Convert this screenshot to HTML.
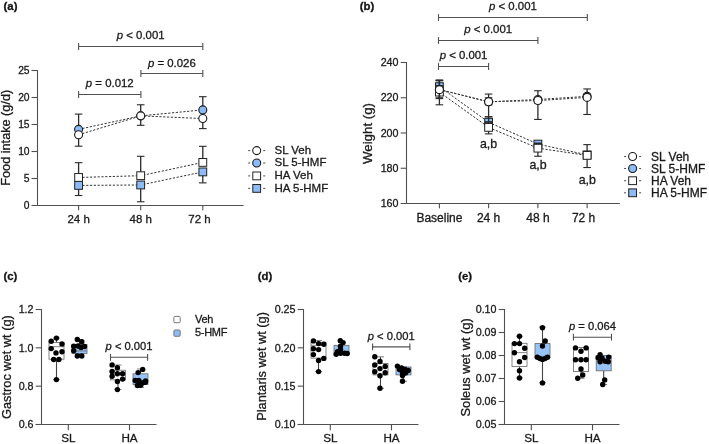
<!DOCTYPE html>
<html><head><meta charset="utf-8"><style>
html,body{margin:0;padding:0;background:#fff;width:709px;height:444px;overflow:hidden}
svg{display:block;font-family:"Liberation Sans", sans-serif;will-change:transform} text{stroke:#1a1a1a;stroke-width:0.3px}
</style></head><body>
<svg width="709" height="444" viewBox="0 0 709 444">
<text x="3.50" y="10.00" font-size="11.4" text-anchor="start" font-weight="bold" fill="#111" >(a)</text>
<line x1="37.50" y1="70.00" x2="37.50" y2="205.50" stroke="#505050" stroke-width="1.1" />
<line x1="31.50" y1="205.50" x2="243.60" y2="205.50" stroke="#505050" stroke-width="1.1" />
<line x1="31.50" y1="178.50" x2="37.50" y2="178.50" stroke="#505050" stroke-width="1.1" />
<line x1="31.50" y1="151.50" x2="37.50" y2="151.50" stroke="#505050" stroke-width="1.1" />
<line x1="31.50" y1="124.50" x2="37.50" y2="124.50" stroke="#505050" stroke-width="1.1" />
<line x1="31.50" y1="97.50" x2="37.50" y2="97.50" stroke="#505050" stroke-width="1.1" />
<line x1="31.50" y1="70.50" x2="37.50" y2="70.50" stroke="#505050" stroke-width="1.1" />
<text x="29.60" y="209.15" font-size="10.3" text-anchor="end" font-weight="normal" fill="#1a1a1a" >0</text>
<text x="29.60" y="182.15" font-size="10.3" text-anchor="end" font-weight="normal" fill="#1a1a1a" >5</text>
<text x="29.60" y="155.15" font-size="10.3" text-anchor="end" font-weight="normal" fill="#1a1a1a" >10</text>
<text x="29.60" y="128.15" font-size="10.3" text-anchor="end" font-weight="normal" fill="#1a1a1a" >15</text>
<text x="29.60" y="101.15" font-size="10.3" text-anchor="end" font-weight="normal" fill="#1a1a1a" >20</text>
<text x="29.60" y="74.15" font-size="10.3" text-anchor="end" font-weight="normal" fill="#1a1a1a" >25</text>
<line x1="78.60" y1="205.50" x2="78.60" y2="210.30" stroke="#505050" stroke-width="1.1" />
<text x="78.60" y="222.80" font-size="11.5" text-anchor="middle" font-weight="normal" fill="#1a1a1a" >24 h</text>
<line x1="140.70" y1="205.50" x2="140.70" y2="210.30" stroke="#505050" stroke-width="1.1" />
<text x="140.70" y="222.80" font-size="11.5" text-anchor="middle" font-weight="normal" fill="#1a1a1a" >48 h</text>
<line x1="202.80" y1="205.50" x2="202.80" y2="210.30" stroke="#505050" stroke-width="1.1" />
<text x="199.50" y="222.80" font-size="11.5" text-anchor="middle" font-weight="normal" fill="#1a1a1a" >72 h</text>
<text transform="translate(10.0,137.75) rotate(-90)" font-size="12.7" text-anchor="middle" fill="#1a1a1a">Food intake (g/d)</text>
<line x1="78.60" y1="94.50" x2="140.90" y2="94.50" stroke="#505050" stroke-width="1.1" />
<line x1="78.60" y1="91.10" x2="78.60" y2="97.90" stroke="#505050" stroke-width="1.1" />
<line x1="140.90" y1="91.10" x2="140.90" y2="97.90" stroke="#505050" stroke-width="1.1" />
<text x="109.75" y="86.80" font-size="11.4" text-anchor="middle" fill="#1a1a1a"><tspan font-style="italic">p</tspan> = 0.012</text>
<line x1="140.90" y1="73.50" x2="202.80" y2="73.50" stroke="#505050" stroke-width="1.1" />
<line x1="140.90" y1="70.10" x2="140.90" y2="76.90" stroke="#505050" stroke-width="1.1" />
<line x1="202.80" y1="70.10" x2="202.80" y2="76.90" stroke="#505050" stroke-width="1.1" />
<text x="171.85" y="66.70" font-size="11.4" text-anchor="middle" fill="#1a1a1a"><tspan font-style="italic">p</tspan> = 0.026</text>
<line x1="78.60" y1="46.50" x2="202.80" y2="46.50" stroke="#505050" stroke-width="1.1" />
<line x1="78.60" y1="43.10" x2="78.60" y2="49.90" stroke="#505050" stroke-width="1.1" />
<line x1="202.80" y1="43.10" x2="202.80" y2="49.90" stroke="#505050" stroke-width="1.1" />
<text x="140.70" y="39.20" font-size="11.4" text-anchor="middle" fill="#1a1a1a"><tspan font-style="italic">p</tspan> &lt; 0.001</text>
<path d="M78.60,185.41 L140.70,184.98 L202.80,171.91" fill="none" stroke="#333" stroke-width="1" stroke-dasharray="2.2,1.6"/>
<path d="M78.60,177.47 L140.70,175.69 L202.80,162.41" fill="none" stroke="#333" stroke-width="1" stroke-dasharray="2.2,1.6"/>
<path d="M78.60,129.36 L140.70,115.86 L202.80,109.92" fill="none" stroke="#333" stroke-width="1" stroke-dasharray="2.2,1.6"/>
<path d="M78.60,134.76 L140.70,115.86 L202.80,118.56" fill="none" stroke="#333" stroke-width="1" stroke-dasharray="2.2,1.6"/>
<line x1="78.60" y1="185.41" x2="78.60" y2="195.51" stroke="#2a2a2a" stroke-width="1.3" />
<line x1="74.80" y1="185.41" x2="82.40" y2="185.41" stroke="#2a2a2a" stroke-width="1.1" />
<line x1="74.80" y1="195.51" x2="82.40" y2="195.51" stroke="#2a2a2a" stroke-width="1.1" />
<rect x="74.70" y="181.51" width="7.80" height="7.80" fill="#8cbbf6" stroke="#222" stroke-width="1.0" />
<line x1="140.70" y1="184.98" x2="140.70" y2="201.77" stroke="#2a2a2a" stroke-width="1.3" />
<line x1="136.90" y1="184.98" x2="144.50" y2="184.98" stroke="#2a2a2a" stroke-width="1.1" />
<line x1="136.90" y1="201.77" x2="144.50" y2="201.77" stroke="#2a2a2a" stroke-width="1.1" />
<rect x="136.80" y="181.08" width="7.80" height="7.80" fill="#8cbbf6" stroke="#222" stroke-width="1.0" />
<line x1="202.80" y1="171.91" x2="202.80" y2="182.87" stroke="#2a2a2a" stroke-width="1.3" />
<line x1="199.00" y1="171.91" x2="206.60" y2="171.91" stroke="#2a2a2a" stroke-width="1.1" />
<line x1="199.00" y1="182.87" x2="206.60" y2="182.87" stroke="#2a2a2a" stroke-width="1.1" />
<rect x="198.90" y="168.01" width="7.80" height="7.80" fill="#8cbbf6" stroke="#222" stroke-width="1.0" />
<line x1="78.60" y1="162.68" x2="78.60" y2="177.47" stroke="#2a2a2a" stroke-width="1.3" />
<line x1="74.80" y1="162.68" x2="82.40" y2="162.68" stroke="#2a2a2a" stroke-width="1.1" />
<line x1="74.80" y1="177.47" x2="82.40" y2="177.47" stroke="#2a2a2a" stroke-width="1.1" />
<rect x="74.70" y="173.57" width="7.80" height="7.80" fill="#fff" stroke="#222" stroke-width="1.0" />
<line x1="140.70" y1="156.31" x2="140.70" y2="175.69" stroke="#2a2a2a" stroke-width="1.3" />
<line x1="136.90" y1="156.31" x2="144.50" y2="156.31" stroke="#2a2a2a" stroke-width="1.1" />
<line x1="136.90" y1="175.69" x2="144.50" y2="175.69" stroke="#2a2a2a" stroke-width="1.1" />
<rect x="136.80" y="171.79" width="7.80" height="7.80" fill="#fff" stroke="#222" stroke-width="1.0" />
<line x1="202.80" y1="146.32" x2="202.80" y2="162.41" stroke="#2a2a2a" stroke-width="1.3" />
<line x1="199.00" y1="146.32" x2="206.60" y2="146.32" stroke="#2a2a2a" stroke-width="1.1" />
<line x1="199.00" y1="162.41" x2="206.60" y2="162.41" stroke="#2a2a2a" stroke-width="1.1" />
<rect x="198.90" y="158.51" width="7.80" height="7.80" fill="#fff" stroke="#222" stroke-width="1.0" />
<line x1="78.60" y1="114.08" x2="78.60" y2="129.36" stroke="#2a2a2a" stroke-width="1.3" />
<line x1="74.80" y1="114.08" x2="82.40" y2="114.08" stroke="#2a2a2a" stroke-width="1.1" />
<line x1="74.80" y1="129.36" x2="82.40" y2="129.36" stroke="#2a2a2a" stroke-width="1.1" />
<circle cx="78.60" cy="129.36" r="4.0" fill="#8cbbf6" stroke="#1a1a1a" stroke-width="1.1"/>
<line x1="140.70" y1="104.79" x2="140.70" y2="115.86" stroke="#2a2a2a" stroke-width="1.3" />
<line x1="136.90" y1="104.79" x2="144.50" y2="104.79" stroke="#2a2a2a" stroke-width="1.1" />
<line x1="136.90" y1="115.86" x2="144.50" y2="115.86" stroke="#2a2a2a" stroke-width="1.1" />
<circle cx="140.70" cy="115.86" r="4.0" fill="#8cbbf6" stroke="#1a1a1a" stroke-width="1.1"/>
<line x1="202.80" y1="96.69" x2="202.80" y2="109.92" stroke="#2a2a2a" stroke-width="1.3" />
<line x1="199.00" y1="96.69" x2="206.60" y2="96.69" stroke="#2a2a2a" stroke-width="1.1" />
<line x1="199.00" y1="109.92" x2="206.60" y2="109.92" stroke="#2a2a2a" stroke-width="1.1" />
<circle cx="202.80" cy="109.92" r="4.0" fill="#8cbbf6" stroke="#1a1a1a" stroke-width="1.1"/>
<line x1="78.60" y1="134.76" x2="78.60" y2="146.21" stroke="#2a2a2a" stroke-width="1.3" />
<line x1="74.80" y1="134.76" x2="82.40" y2="134.76" stroke="#2a2a2a" stroke-width="1.1" />
<line x1="74.80" y1="146.21" x2="82.40" y2="146.21" stroke="#2a2a2a" stroke-width="1.1" />
<circle cx="78.60" cy="134.76" r="4.0" fill="#fff" stroke="#1a1a1a" stroke-width="1.1"/>
<line x1="140.70" y1="115.86" x2="140.70" y2="125.31" stroke="#2a2a2a" stroke-width="1.3" />
<line x1="136.90" y1="115.86" x2="144.50" y2="115.86" stroke="#2a2a2a" stroke-width="1.1" />
<line x1="136.90" y1="125.31" x2="144.50" y2="125.31" stroke="#2a2a2a" stroke-width="1.1" />
<circle cx="140.70" cy="115.86" r="4.0" fill="#fff" stroke="#1a1a1a" stroke-width="1.1"/>
<line x1="202.80" y1="118.56" x2="202.80" y2="128.60" stroke="#2a2a2a" stroke-width="1.3" />
<line x1="199.00" y1="118.56" x2="206.60" y2="118.56" stroke="#2a2a2a" stroke-width="1.1" />
<line x1="199.00" y1="128.60" x2="206.60" y2="128.60" stroke="#2a2a2a" stroke-width="1.1" />
<circle cx="202.80" cy="118.56" r="4.0" fill="#fff" stroke="#1a1a1a" stroke-width="1.1"/>
<line x1="248.20" y1="150.60" x2="250.20" y2="150.60" stroke="#555" stroke-width="1.1" />
<line x1="263.20" y1="150.60" x2="265.20" y2="150.60" stroke="#555" stroke-width="1.1" />
<circle cx="256.70" cy="150.60" r="4.0" fill="#fff" stroke="#1a1a1a" stroke-width="1.1"/>
<text x="274.50" y="154.00" font-size="11.5" text-anchor="start" font-weight="normal" fill="#1a1a1a" >SL Veh</text>
<line x1="248.20" y1="163.00" x2="250.20" y2="163.00" stroke="#555" stroke-width="1.1" />
<line x1="263.20" y1="163.00" x2="265.20" y2="163.00" stroke="#555" stroke-width="1.1" />
<circle cx="256.70" cy="163.00" r="4.0" fill="#8cbbf6" stroke="#1a1a1a" stroke-width="1.1"/>
<text x="274.50" y="166.40" font-size="11.5" text-anchor="start" font-weight="normal" fill="#1a1a1a" >SL 5-HMF</text>
<line x1="248.20" y1="175.90" x2="250.20" y2="175.90" stroke="#555" stroke-width="1.1" />
<line x1="263.20" y1="175.90" x2="265.20" y2="175.90" stroke="#555" stroke-width="1.1" />
<rect x="252.80" y="172.00" width="7.80" height="7.80" fill="#fff" stroke="#222" stroke-width="1.0" />
<text x="274.50" y="179.30" font-size="11.5" text-anchor="start" font-weight="normal" fill="#1a1a1a" >HA Veh</text>
<line x1="248.20" y1="188.40" x2="250.20" y2="188.40" stroke="#555" stroke-width="1.1" />
<line x1="263.20" y1="188.40" x2="265.20" y2="188.40" stroke="#555" stroke-width="1.1" />
<rect x="252.80" y="184.50" width="7.80" height="7.80" fill="#8cbbf6" stroke="#222" stroke-width="1.0" />
<text x="274.50" y="191.80" font-size="11.5" text-anchor="start" font-weight="normal" fill="#1a1a1a" >HA 5-HMF</text>
<text x="359.70" y="10.20" font-size="11.4" text-anchor="start" font-weight="bold" fill="#111" >(b)</text>
<line x1="406.50" y1="62.00" x2="406.50" y2="203.50" stroke="#505050" stroke-width="1.1" />
<line x1="400.70" y1="203.50" x2="619.90" y2="203.50" stroke="#505050" stroke-width="1.1" />
<line x1="400.70" y1="168.25" x2="406.50" y2="168.25" stroke="#505050" stroke-width="1.1" />
<line x1="400.70" y1="133.00" x2="406.50" y2="133.00" stroke="#505050" stroke-width="1.1" />
<line x1="400.70" y1="97.75" x2="406.50" y2="97.75" stroke="#505050" stroke-width="1.1" />
<line x1="400.70" y1="62.50" x2="406.50" y2="62.50" stroke="#505050" stroke-width="1.1" />
<text x="398.50" y="207.20" font-size="10.7" text-anchor="end" font-weight="normal" fill="#1a1a1a" >160</text>
<text x="398.50" y="171.95" font-size="10.7" text-anchor="end" font-weight="normal" fill="#1a1a1a" >180</text>
<text x="398.50" y="136.70" font-size="10.7" text-anchor="end" font-weight="normal" fill="#1a1a1a" >200</text>
<text x="398.50" y="101.45" font-size="10.7" text-anchor="end" font-weight="normal" fill="#1a1a1a" >220</text>
<text x="398.50" y="66.20" font-size="10.7" text-anchor="end" font-weight="normal" fill="#1a1a1a" >240</text>
<line x1="439.40" y1="203.50" x2="439.40" y2="208.30" stroke="#505050" stroke-width="1.1" />
<text x="439.40" y="222.40" font-size="12" text-anchor="middle" font-weight="normal" fill="#1a1a1a" >Baseline</text>
<line x1="488.60" y1="203.50" x2="488.60" y2="208.30" stroke="#505050" stroke-width="1.1" />
<text x="488.60" y="222.40" font-size="12" text-anchor="middle" font-weight="normal" fill="#1a1a1a" >24 h</text>
<line x1="537.90" y1="203.50" x2="537.90" y2="208.30" stroke="#505050" stroke-width="1.1" />
<text x="537.90" y="222.40" font-size="12" text-anchor="middle" font-weight="normal" fill="#1a1a1a" >48 h</text>
<line x1="587.10" y1="203.50" x2="587.10" y2="208.30" stroke="#505050" stroke-width="1.1" />
<text x="583.60" y="222.40" font-size="12" text-anchor="middle" font-weight="normal" fill="#1a1a1a" >72 h</text>
<text transform="translate(372.1,133.5) rotate(-90)" font-size="13.3" text-anchor="middle" fill="#1a1a1a">Weight (g)</text>
<line x1="438.50" y1="66.50" x2="488.60" y2="66.50" stroke="#505050" stroke-width="1.1" />
<line x1="438.50" y1="63.10" x2="438.50" y2="69.90" stroke="#505050" stroke-width="1.1" />
<line x1="488.60" y1="63.10" x2="488.60" y2="69.90" stroke="#505050" stroke-width="1.1" />
<text x="463.55" y="58.90" font-size="11.4" text-anchor="middle" fill="#1a1a1a"><tspan font-style="italic">p</tspan> &lt; 0.001</text>
<line x1="438.50" y1="40.50" x2="537.90" y2="40.50" stroke="#505050" stroke-width="1.1" />
<line x1="438.50" y1="37.10" x2="438.50" y2="43.90" stroke="#505050" stroke-width="1.1" />
<line x1="537.90" y1="37.10" x2="537.90" y2="43.90" stroke="#505050" stroke-width="1.1" />
<text x="488.20" y="32.90" font-size="11.4" text-anchor="middle" fill="#1a1a1a"><tspan font-style="italic">p</tspan> &lt; 0.001</text>
<line x1="438.50" y1="17.50" x2="587.30" y2="17.50" stroke="#505050" stroke-width="1.1" />
<line x1="438.50" y1="14.10" x2="438.50" y2="20.90" stroke="#505050" stroke-width="1.1" />
<line x1="587.30" y1="14.10" x2="587.30" y2="20.90" stroke="#505050" stroke-width="1.1" />
<text x="512.90" y="9.60" font-size="11.4" text-anchor="middle" fill="#1a1a1a"><tspan font-style="italic">p</tspan> &lt; 0.001</text>
<path d="M439.40,86.65 L488.60,122.25 L537.90,144.10 L587.10,154.86" fill="none" stroke="#333" stroke-width="1" stroke-dasharray="2.2,1.6"/>
<path d="M439.40,92.11 L488.60,127.36 L537.90,148.16 L587.10,155.38" fill="none" stroke="#333" stroke-width="1" stroke-dasharray="2.2,1.6"/>
<path d="M439.40,89.47 L488.60,101.80 L537.90,99.51 L587.10,96.34" fill="none" stroke="#333" stroke-width="1" stroke-dasharray="2.2,1.6"/>
<path d="M439.40,89.64 L488.60,101.80 L537.90,100.57 L587.10,97.40" fill="none" stroke="#333" stroke-width="1" stroke-dasharray="2.2,1.6"/>
<rect x="435.50" y="82.75" width="7.80" height="7.80" fill="#8cbbf6" stroke="#222" stroke-width="1.0" />
<line x1="439.40" y1="79.95" x2="439.40" y2="86.65" stroke="#2a2a2a" stroke-width="1.3" />
<line x1="435.60" y1="79.95" x2="443.20" y2="79.95" stroke="#2a2a2a" stroke-width="1.1" />
<line x1="435.60" y1="86.65" x2="443.20" y2="86.65" stroke="#2a2a2a" stroke-width="1.1" />
<rect x="484.70" y="118.35" width="7.80" height="7.80" fill="#8cbbf6" stroke="#222" stroke-width="1.0" />
<line x1="488.60" y1="116.79" x2="488.60" y2="122.25" stroke="#2a2a2a" stroke-width="1.3" />
<line x1="484.80" y1="116.79" x2="492.40" y2="116.79" stroke="#2a2a2a" stroke-width="1.1" />
<line x1="484.80" y1="122.25" x2="492.40" y2="122.25" stroke="#2a2a2a" stroke-width="1.1" />
<rect x="534.00" y="140.20" width="7.80" height="7.80" fill="#8cbbf6" stroke="#222" stroke-width="1.0" />
<line x1="537.90" y1="143.57" x2="537.90" y2="144.10" stroke="#2a2a2a" stroke-width="1.3" />
<line x1="534.10" y1="143.57" x2="541.70" y2="143.57" stroke="#2a2a2a" stroke-width="1.1" />
<line x1="534.10" y1="144.10" x2="541.70" y2="144.10" stroke="#2a2a2a" stroke-width="1.1" />
<rect x="583.20" y="150.96" width="7.80" height="7.80" fill="#8cbbf6" stroke="#222" stroke-width="1.0" />
<line x1="587.10" y1="152.39" x2="587.10" y2="157.68" stroke="#2a2a2a" stroke-width="1.3" />
<line x1="583.30" y1="152.39" x2="590.90" y2="152.39" stroke="#2a2a2a" stroke-width="1.1" />
<line x1="583.30" y1="157.68" x2="590.90" y2="157.68" stroke="#2a2a2a" stroke-width="1.1" />
<line x1="439.40" y1="85.59" x2="439.40" y2="98.63" stroke="#2a2a2a" stroke-width="1.3" />
<line x1="435.60" y1="85.59" x2="443.20" y2="85.59" stroke="#2a2a2a" stroke-width="1.1" />
<line x1="435.60" y1="98.63" x2="443.20" y2="98.63" stroke="#2a2a2a" stroke-width="1.1" />
<rect x="435.50" y="88.21" width="7.80" height="7.80" fill="#fff" stroke="#222" stroke-width="1.0" />
<line x1="488.60" y1="121.72" x2="488.60" y2="133.88" stroke="#2a2a2a" stroke-width="1.3" />
<line x1="484.80" y1="121.72" x2="492.40" y2="121.72" stroke="#2a2a2a" stroke-width="1.1" />
<line x1="484.80" y1="133.88" x2="492.40" y2="133.88" stroke="#2a2a2a" stroke-width="1.1" />
<rect x="484.70" y="123.46" width="7.80" height="7.80" fill="#fff" stroke="#222" stroke-width="1.0" />
<line x1="537.90" y1="143.05" x2="537.90" y2="156.26" stroke="#2a2a2a" stroke-width="1.3" />
<line x1="534.10" y1="143.05" x2="541.70" y2="143.05" stroke="#2a2a2a" stroke-width="1.1" />
<line x1="534.10" y1="156.26" x2="541.70" y2="156.26" stroke="#2a2a2a" stroke-width="1.1" />
<rect x="534.00" y="144.26" width="7.80" height="7.80" fill="#fff" stroke="#222" stroke-width="1.0" />
<line x1="587.10" y1="144.63" x2="587.10" y2="167.54" stroke="#2a2a2a" stroke-width="1.3" />
<line x1="583.30" y1="144.63" x2="590.90" y2="144.63" stroke="#2a2a2a" stroke-width="1.1" />
<line x1="583.30" y1="167.54" x2="590.90" y2="167.54" stroke="#2a2a2a" stroke-width="1.1" />
<rect x="583.20" y="151.48" width="7.80" height="7.80" fill="#fff" stroke="#222" stroke-width="1.0" />
<line x1="439.40" y1="80.83" x2="439.40" y2="104.80" stroke="#2a2a2a" stroke-width="1.3" />
<line x1="435.60" y1="80.83" x2="443.20" y2="80.83" stroke="#2a2a2a" stroke-width="1.1" />
<line x1="435.60" y1="104.80" x2="443.20" y2="104.80" stroke="#2a2a2a" stroke-width="1.1" />
<circle cx="439.40" cy="89.47" r="4.0" fill="#8cbbf6" stroke="#1a1a1a" stroke-width="1.1"/>
<line x1="488.60" y1="97.75" x2="488.60" y2="104.80" stroke="#2a2a2a" stroke-width="1.3" />
<line x1="484.80" y1="97.75" x2="492.40" y2="97.75" stroke="#2a2a2a" stroke-width="1.1" />
<line x1="484.80" y1="104.80" x2="492.40" y2="104.80" stroke="#2a2a2a" stroke-width="1.1" />
<circle cx="488.60" cy="101.80" r="4.0" fill="#8cbbf6" stroke="#1a1a1a" stroke-width="1.1"/>
<line x1="537.90" y1="97.75" x2="537.90" y2="103.04" stroke="#2a2a2a" stroke-width="1.3" />
<line x1="534.10" y1="97.75" x2="541.70" y2="97.75" stroke="#2a2a2a" stroke-width="1.1" />
<line x1="534.10" y1="103.04" x2="541.70" y2="103.04" stroke="#2a2a2a" stroke-width="1.1" />
<circle cx="537.90" cy="99.51" r="4.0" fill="#8cbbf6" stroke="#1a1a1a" stroke-width="1.1"/>
<line x1="587.10" y1="94.23" x2="587.10" y2="99.51" stroke="#2a2a2a" stroke-width="1.3" />
<line x1="583.30" y1="94.23" x2="590.90" y2="94.23" stroke="#2a2a2a" stroke-width="1.1" />
<line x1="583.30" y1="99.51" x2="590.90" y2="99.51" stroke="#2a2a2a" stroke-width="1.1" />
<circle cx="587.10" cy="96.34" r="4.0" fill="#8cbbf6" stroke="#1a1a1a" stroke-width="1.1"/>
<line x1="439.40" y1="80.48" x2="439.40" y2="97.75" stroke="#2a2a2a" stroke-width="1.3" />
<line x1="435.60" y1="80.48" x2="443.20" y2="80.48" stroke="#2a2a2a" stroke-width="1.1" />
<line x1="435.60" y1="97.75" x2="443.20" y2="97.75" stroke="#2a2a2a" stroke-width="1.1" />
<circle cx="439.40" cy="89.64" r="4.0" fill="#fff" stroke="#1a1a1a" stroke-width="1.1"/>
<line x1="488.60" y1="94.05" x2="488.60" y2="116.79" stroke="#2a2a2a" stroke-width="1.3" />
<line x1="484.80" y1="94.05" x2="492.40" y2="94.05" stroke="#2a2a2a" stroke-width="1.1" />
<line x1="484.80" y1="116.79" x2="492.40" y2="116.79" stroke="#2a2a2a" stroke-width="1.1" />
<circle cx="488.60" cy="101.80" r="4.0" fill="#fff" stroke="#1a1a1a" stroke-width="1.1"/>
<line x1="537.90" y1="90.70" x2="537.90" y2="119.43" stroke="#2a2a2a" stroke-width="1.3" />
<line x1="534.10" y1="90.70" x2="541.70" y2="90.70" stroke="#2a2a2a" stroke-width="1.1" />
<line x1="534.10" y1="119.43" x2="541.70" y2="119.43" stroke="#2a2a2a" stroke-width="1.1" />
<circle cx="537.90" cy="100.57" r="4.0" fill="#fff" stroke="#1a1a1a" stroke-width="1.1"/>
<line x1="587.10" y1="88.94" x2="587.10" y2="114.49" stroke="#2a2a2a" stroke-width="1.3" />
<line x1="583.30" y1="88.94" x2="590.90" y2="88.94" stroke="#2a2a2a" stroke-width="1.1" />
<line x1="583.30" y1="114.49" x2="590.90" y2="114.49" stroke="#2a2a2a" stroke-width="1.1" />
<circle cx="587.10" cy="97.40" r="4.0" fill="#fff" stroke="#1a1a1a" stroke-width="1.1"/>
<text x="488.50" y="147.60" font-size="12.4" text-anchor="middle" font-weight="normal" fill="#1a1a1a" >a,b</text>
<text x="538.00" y="169.30" font-size="12.4" text-anchor="middle" font-weight="normal" fill="#1a1a1a" >a,b</text>
<text x="587.30" y="184.30" font-size="12.4" text-anchor="middle" font-weight="normal" fill="#1a1a1a" >a,b</text>
<line x1="624.10" y1="156.50" x2="626.10" y2="156.50" stroke="#555" stroke-width="1.1" />
<line x1="639.10" y1="156.50" x2="641.10" y2="156.50" stroke="#555" stroke-width="1.1" />
<circle cx="632.60" cy="156.50" r="4.0" fill="#fff" stroke="#1a1a1a" stroke-width="1.1"/>
<text x="651.00" y="160.50" font-size="12" text-anchor="start" font-weight="normal" fill="#1a1a1a" >SL Veh</text>
<line x1="624.10" y1="168.50" x2="626.10" y2="168.50" stroke="#555" stroke-width="1.1" />
<line x1="639.10" y1="168.50" x2="641.10" y2="168.50" stroke="#555" stroke-width="1.1" />
<circle cx="632.60" cy="168.50" r="4.0" fill="#8cbbf6" stroke="#1a1a1a" stroke-width="1.1"/>
<text x="651.00" y="172.50" font-size="12" text-anchor="start" font-weight="normal" fill="#1a1a1a" >SL 5-HMF</text>
<line x1="624.10" y1="180.70" x2="626.10" y2="180.70" stroke="#555" stroke-width="1.1" />
<line x1="639.10" y1="180.70" x2="641.10" y2="180.70" stroke="#555" stroke-width="1.1" />
<rect x="628.70" y="176.80" width="7.80" height="7.80" fill="#fff" stroke="#222" stroke-width="1.0" />
<text x="651.00" y="184.70" font-size="12" text-anchor="start" font-weight="normal" fill="#1a1a1a" >HA Veh</text>
<line x1="624.10" y1="192.80" x2="626.10" y2="192.80" stroke="#555" stroke-width="1.1" />
<line x1="639.10" y1="192.80" x2="641.10" y2="192.80" stroke="#555" stroke-width="1.1" />
<rect x="628.70" y="188.90" width="7.80" height="7.80" fill="#8cbbf6" stroke="#222" stroke-width="1.0" />
<text x="651.00" y="196.80" font-size="12" text-anchor="start" font-weight="normal" fill="#1a1a1a" >HA 5-HMF</text>
<text x="3.40" y="279.80" font-size="11.4" text-anchor="start" font-weight="bold" fill="#111" >(c)</text>
<line x1="41.50" y1="309.00" x2="41.50" y2="424.50" stroke="#505050" stroke-width="1.1" />
<line x1="35.70" y1="424.50" x2="156.50" y2="424.50" stroke="#505050" stroke-width="1.1" />
<line x1="35.70" y1="424.50" x2="41.50" y2="424.50" stroke="#505050" stroke-width="1.1" />
<text x="33.50" y="428.20" font-size="10.7" text-anchor="end" font-weight="normal" fill="#1a1a1a" >0.6</text>
<line x1="35.70" y1="386.17" x2="41.50" y2="386.17" stroke="#505050" stroke-width="1.1" />
<text x="33.50" y="389.87" font-size="10.7" text-anchor="end" font-weight="normal" fill="#1a1a1a" >0.8</text>
<line x1="35.70" y1="347.83" x2="41.50" y2="347.83" stroke="#505050" stroke-width="1.1" />
<text x="33.50" y="351.53" font-size="10.7" text-anchor="end" font-weight="normal" fill="#1a1a1a" >1.0</text>
<line x1="35.70" y1="309.50" x2="41.50" y2="309.50" stroke="#505050" stroke-width="1.1" />
<text x="33.50" y="313.20" font-size="10.7" text-anchor="end" font-weight="normal" fill="#1a1a1a" >1.2</text>
<line x1="68.30" y1="424.50" x2="68.30" y2="430.30" stroke="#505050" stroke-width="1.1" />
<text x="68.30" y="442.40" font-size="11.7" text-anchor="middle" font-weight="normal" fill="#1a1a1a" >SL</text>
<line x1="129.50" y1="424.50" x2="129.50" y2="430.30" stroke="#505050" stroke-width="1.1" />
<text x="129.50" y="442.40" font-size="11.7" text-anchor="middle" font-weight="normal" fill="#1a1a1a" >HA</text>
<text transform="translate(10.8,367.1) rotate(-90)" font-size="12.8" text-anchor="middle" fill="#1a1a1a">Gastroc wet wt (g)</text>
<line x1="56.50" y1="338.00" x2="56.50" y2="342.60" stroke="#444" stroke-width="1.1" />
<line x1="56.50" y1="359.20" x2="56.50" y2="379.60" stroke="#444" stroke-width="1.1" />
<line x1="53.00" y1="338.00" x2="60.00" y2="338.00" stroke="#777" stroke-width="0.9" />
<line x1="53.00" y1="379.60" x2="60.00" y2="379.60" stroke="#777" stroke-width="0.9" />
<rect x="49.00" y="342.60" width="15.00" height="16.60" fill="#fff" stroke="#666" stroke-width="0.8" />
<line x1="49.00" y1="346.70" x2="64.00" y2="346.70" stroke="#666" stroke-width="0.8" />
<circle cx="56.40" cy="338.10" r="2.7" fill="#000"/>
<circle cx="51.20" cy="341.20" r="2.7" fill="#000"/>
<circle cx="62.00" cy="343.90" r="2.7" fill="#000"/>
<circle cx="51.20" cy="348.60" r="2.7" fill="#000"/>
<circle cx="62.00" cy="351.70" r="2.7" fill="#000"/>
<circle cx="56.00" cy="352.90" r="2.7" fill="#000"/>
<circle cx="53.70" cy="359.50" r="2.7" fill="#000"/>
<circle cx="58.90" cy="359.50" r="2.7" fill="#000"/>
<circle cx="56.40" cy="379.60" r="2.7" fill="#000"/>
<line x1="79.50" y1="339.50" x2="79.50" y2="344.40" stroke="#444" stroke-width="1.1" />
<line x1="79.50" y1="353.40" x2="79.50" y2="356.00" stroke="#444" stroke-width="1.1" />
<line x1="76.00" y1="339.50" x2="83.00" y2="339.50" stroke="#777" stroke-width="0.9" />
<line x1="76.00" y1="356.00" x2="83.00" y2="356.00" stroke="#777" stroke-width="0.9" />
<rect x="72.00" y="344.40" width="15.00" height="9.00" fill="#96c3f8" stroke="#666" stroke-width="0.8" />
<line x1="72.00" y1="351.00" x2="87.00" y2="351.00" stroke="#666" stroke-width="0.8" />
<circle cx="77.30" cy="339.50" r="2.7" fill="#000"/>
<circle cx="81.80" cy="341.70" r="2.7" fill="#000"/>
<circle cx="73.70" cy="346.20" r="2.7" fill="#000"/>
<circle cx="78.00" cy="346.00" r="2.7" fill="#000"/>
<circle cx="84.50" cy="346.50" r="2.7" fill="#000"/>
<circle cx="73.70" cy="350.80" r="2.7" fill="#000"/>
<circle cx="77.30" cy="356.00" r="2.7" fill="#000"/>
<circle cx="81.80" cy="356.00" r="2.7" fill="#000"/>
<circle cx="81.00" cy="347.50" r="2.7" fill="#000"/>
<line x1="118.00" y1="365.00" x2="118.00" y2="370.20" stroke="#444" stroke-width="1.1" />
<line x1="118.00" y1="379.90" x2="118.00" y2="389.60" stroke="#444" stroke-width="1.1" />
<line x1="114.50" y1="365.00" x2="121.50" y2="365.00" stroke="#777" stroke-width="0.9" />
<line x1="114.50" y1="389.60" x2="121.50" y2="389.60" stroke="#777" stroke-width="0.9" />
<rect x="110.50" y="370.20" width="15.00" height="9.70" fill="#fff" stroke="#666" stroke-width="0.8" />
<line x1="110.50" y1="373.80" x2="125.50" y2="373.80" stroke="#666" stroke-width="0.8" />
<circle cx="112.10" cy="364.90" r="2.7" fill="#000"/>
<circle cx="117.40" cy="367.70" r="2.7" fill="#000"/>
<circle cx="112.10" cy="371.40" r="2.7" fill="#000"/>
<circle cx="117.40" cy="373.80" r="2.7" fill="#000"/>
<circle cx="122.60" cy="373.80" r="2.7" fill="#000"/>
<circle cx="112.10" cy="376.20" r="2.7" fill="#000"/>
<circle cx="122.60" cy="379.10" r="2.7" fill="#000"/>
<circle cx="117.40" cy="381.50" r="2.7" fill="#000"/>
<circle cx="117.40" cy="389.60" r="2.7" fill="#000"/>
<line x1="140.50" y1="369.00" x2="140.50" y2="373.80" stroke="#444" stroke-width="1.1" />
<line x1="140.50" y1="384.60" x2="140.50" y2="387.30" stroke="#444" stroke-width="1.1" />
<line x1="137.00" y1="369.00" x2="144.00" y2="369.00" stroke="#777" stroke-width="0.9" />
<line x1="137.00" y1="387.30" x2="144.00" y2="387.30" stroke="#777" stroke-width="0.9" />
<rect x="133.00" y="373.80" width="15.00" height="10.80" fill="#96c3f8" stroke="#666" stroke-width="0.8" />
<line x1="133.00" y1="380.50" x2="148.00" y2="380.50" stroke="#666" stroke-width="0.8" />
<circle cx="142.70" cy="369.40" r="2.7" fill="#000"/>
<circle cx="138.10" cy="372.60" r="2.7" fill="#000"/>
<circle cx="135.20" cy="380.50" r="2.7" fill="#000"/>
<circle cx="138.80" cy="380.50" r="2.7" fill="#000"/>
<circle cx="145.60" cy="380.90" r="2.7" fill="#000"/>
<circle cx="142.40" cy="383.00" r="2.7" fill="#000"/>
<circle cx="137.40" cy="385.50" r="2.7" fill="#000"/>
<circle cx="140.60" cy="385.20" r="2.7" fill="#000"/>
<circle cx="145.30" cy="382.30" r="2.7" fill="#000"/>
<line x1="110.50" y1="357.30" x2="147.60" y2="357.30" stroke="#505050" stroke-width="1.1" />
<line x1="110.50" y1="353.90" x2="110.50" y2="360.70" stroke="#505050" stroke-width="1.1" />
<line x1="147.60" y1="353.90" x2="147.60" y2="360.70" stroke="#505050" stroke-width="1.1" />
<text x="129.05" y="349.70" font-size="11.2" text-anchor="middle" fill="#1a1a1a"><tspan font-style="italic">p</tspan> &lt; 0.001</text>
<rect x="173.90" y="316.40" width="6.30" height="6.30" fill="#fff" stroke="#777" stroke-width="1.0" rx="1"/>
<rect x="173.90" y="330.00" width="6.30" height="6.30" fill="#8cbbf6" stroke="#777" stroke-width="1.0" rx="1"/>
<text x="195.00" y="323.10" font-size="11" text-anchor="start" font-weight="normal" fill="#1a1a1a" letter-spacing="-0.3">Veh</text>
<text x="195.00" y="336.30" font-size="11" text-anchor="start" font-weight="normal" fill="#1a1a1a" letter-spacing="-0.3">5-HMF</text>
<text x="257.70" y="279.80" font-size="11.4" text-anchor="start" font-weight="bold" fill="#111" >(d)</text>
<line x1="303.50" y1="309.00" x2="303.50" y2="424.50" stroke="#505050" stroke-width="1.1" />
<line x1="297.70" y1="424.50" x2="418.50" y2="424.50" stroke="#505050" stroke-width="1.1" />
<line x1="297.70" y1="424.50" x2="303.50" y2="424.50" stroke="#505050" stroke-width="1.1" />
<text x="295.50" y="428.20" font-size="10.7" text-anchor="end" font-weight="normal" fill="#1a1a1a" >0.10</text>
<line x1="297.70" y1="386.17" x2="303.50" y2="386.17" stroke="#505050" stroke-width="1.1" />
<text x="295.50" y="389.87" font-size="10.7" text-anchor="end" font-weight="normal" fill="#1a1a1a" >0.15</text>
<line x1="297.70" y1="347.83" x2="303.50" y2="347.83" stroke="#505050" stroke-width="1.1" />
<text x="295.50" y="351.53" font-size="10.7" text-anchor="end" font-weight="normal" fill="#1a1a1a" >0.20</text>
<line x1="297.70" y1="309.50" x2="303.50" y2="309.50" stroke="#505050" stroke-width="1.1" />
<text x="295.50" y="313.20" font-size="10.7" text-anchor="end" font-weight="normal" fill="#1a1a1a" >0.25</text>
<line x1="330.30" y1="424.50" x2="330.30" y2="430.30" stroke="#505050" stroke-width="1.1" />
<text x="330.30" y="442.40" font-size="11.7" text-anchor="middle" font-weight="normal" fill="#1a1a1a" >SL</text>
<line x1="391.50" y1="424.50" x2="391.50" y2="430.30" stroke="#505050" stroke-width="1.1" />
<text x="391.50" y="442.40" font-size="11.7" text-anchor="middle" font-weight="normal" fill="#1a1a1a" >HA</text>
<text transform="translate(266.3,366.4) rotate(-90)" font-size="12.8" text-anchor="middle" fill="#1a1a1a">Plantaris wet wt (g)</text>
<line x1="318.50" y1="340.50" x2="318.50" y2="342.30" stroke="#444" stroke-width="1.1" />
<line x1="318.50" y1="358.10" x2="318.50" y2="371.60" stroke="#444" stroke-width="1.1" />
<line x1="315.00" y1="340.50" x2="322.00" y2="340.50" stroke="#777" stroke-width="0.9" />
<line x1="315.00" y1="371.60" x2="322.00" y2="371.60" stroke="#777" stroke-width="0.9" />
<rect x="311.00" y="342.30" width="15.00" height="15.80" fill="#fff" stroke="#666" stroke-width="0.8" />
<line x1="311.00" y1="345.30" x2="326.00" y2="345.30" stroke="#666" stroke-width="0.8" />
<circle cx="313.40" cy="340.90" r="2.7" fill="#000"/>
<circle cx="318.60" cy="343.60" r="2.7" fill="#000"/>
<circle cx="323.80" cy="344.20" r="2.7" fill="#000"/>
<circle cx="313.40" cy="348.70" r="2.7" fill="#000"/>
<circle cx="318.60" cy="349.60" r="2.7" fill="#000"/>
<circle cx="313.40" cy="354.60" r="2.7" fill="#000"/>
<circle cx="323.80" cy="358.40" r="2.7" fill="#000"/>
<circle cx="318.60" cy="360.50" r="2.7" fill="#000"/>
<circle cx="318.60" cy="371.60" r="2.7" fill="#000"/>
<line x1="341.50" y1="341.50" x2="341.50" y2="345.30" stroke="#444" stroke-width="1.1" />
<line x1="341.50" y1="354.70" x2="341.50" y2="354.70" stroke="#444" stroke-width="1.1" />
<line x1="338.00" y1="341.50" x2="345.00" y2="341.50" stroke="#777" stroke-width="0.9" />
<line x1="338.00" y1="354.70" x2="345.00" y2="354.70" stroke="#777" stroke-width="0.9" />
<rect x="334.00" y="345.30" width="15.00" height="9.40" fill="#96c3f8" stroke="#666" stroke-width="0.8" />
<circle cx="340.30" cy="340.80" r="2.7" fill="#000"/>
<circle cx="343.10" cy="342.60" r="2.7" fill="#000"/>
<circle cx="340.50" cy="346.30" r="2.7" fill="#000"/>
<circle cx="340.50" cy="349.50" r="2.7" fill="#000"/>
<circle cx="336.20" cy="354.20" r="2.7" fill="#000"/>
<circle cx="340.50" cy="353.20" r="2.7" fill="#000"/>
<circle cx="344.60" cy="353.20" r="2.7" fill="#000"/>
<circle cx="347.20" cy="353.50" r="2.7" fill="#000"/>
<circle cx="337.50" cy="351.80" r="2.7" fill="#000"/>
<line x1="380.50" y1="356.80" x2="380.50" y2="363.40" stroke="#444" stroke-width="1.1" />
<line x1="380.50" y1="374.90" x2="380.50" y2="388.30" stroke="#444" stroke-width="1.1" />
<line x1="377.00" y1="356.80" x2="384.00" y2="356.80" stroke="#777" stroke-width="0.9" />
<line x1="377.00" y1="388.30" x2="384.00" y2="388.30" stroke="#777" stroke-width="0.9" />
<rect x="373.00" y="363.40" width="15.00" height="11.50" fill="#fff" stroke="#666" stroke-width="0.8" />
<circle cx="374.80" cy="356.80" r="2.7" fill="#000"/>
<circle cx="380.00" cy="361.50" r="2.7" fill="#000"/>
<circle cx="374.80" cy="365.00" r="2.7" fill="#000"/>
<circle cx="385.20" cy="366.50" r="2.7" fill="#000"/>
<circle cx="380.00" cy="368.60" r="2.7" fill="#000"/>
<circle cx="374.80" cy="371.70" r="2.7" fill="#000"/>
<circle cx="385.20" cy="372.80" r="2.7" fill="#000"/>
<circle cx="380.00" cy="375.70" r="2.7" fill="#000"/>
<circle cx="380.00" cy="388.30" r="2.7" fill="#000"/>
<line x1="403.50" y1="367.00" x2="403.50" y2="367.00" stroke="#444" stroke-width="1.1" />
<line x1="403.50" y1="374.90" x2="403.50" y2="381.20" stroke="#444" stroke-width="1.1" />
<line x1="400.00" y1="367.00" x2="407.00" y2="367.00" stroke="#777" stroke-width="0.9" />
<line x1="400.00" y1="381.20" x2="407.00" y2="381.20" stroke="#777" stroke-width="0.9" />
<rect x="396.00" y="367.00" width="15.00" height="7.90" fill="#96c3f8" stroke="#666" stroke-width="0.8" />
<circle cx="397.40" cy="366.10" r="2.7" fill="#000"/>
<circle cx="401.50" cy="368.00" r="2.7" fill="#000"/>
<circle cx="405.00" cy="369.50" r="2.7" fill="#000"/>
<circle cx="408.20" cy="370.50" r="2.7" fill="#000"/>
<circle cx="402.50" cy="372.50" r="2.7" fill="#000"/>
<circle cx="402.50" cy="375.60" r="2.7" fill="#000"/>
<circle cx="402.50" cy="381.30" r="2.7" fill="#000"/>
<circle cx="399.50" cy="369.50" r="2.7" fill="#000"/>
<circle cx="405.50" cy="373.00" r="2.7" fill="#000"/>
<line x1="372.60" y1="346.90" x2="409.90" y2="346.90" stroke="#505050" stroke-width="1.1" />
<line x1="372.60" y1="343.50" x2="372.60" y2="350.30" stroke="#505050" stroke-width="1.1" />
<line x1="409.90" y1="343.50" x2="409.90" y2="350.30" stroke="#505050" stroke-width="1.1" />
<text x="391.25" y="339.60" font-size="11.2" text-anchor="middle" fill="#1a1a1a"><tspan font-style="italic">p</tspan> &lt; 0.001</text>
<text x="458.20" y="279.80" font-size="11.4" text-anchor="start" font-weight="bold" fill="#111" >(e)</text>
<line x1="504.50" y1="309.00" x2="504.50" y2="424.50" stroke="#505050" stroke-width="1.1" />
<line x1="498.70" y1="424.50" x2="619.50" y2="424.50" stroke="#505050" stroke-width="1.1" />
<line x1="498.70" y1="424.50" x2="504.50" y2="424.50" stroke="#505050" stroke-width="1.1" />
<text x="496.50" y="428.20" font-size="10.7" text-anchor="end" font-weight="normal" fill="#1a1a1a" >0.05</text>
<line x1="498.70" y1="401.50" x2="504.50" y2="401.50" stroke="#505050" stroke-width="1.1" />
<text x="496.50" y="405.20" font-size="10.7" text-anchor="end" font-weight="normal" fill="#1a1a1a" >0.06</text>
<line x1="498.70" y1="378.50" x2="504.50" y2="378.50" stroke="#505050" stroke-width="1.1" />
<text x="496.50" y="382.20" font-size="10.7" text-anchor="end" font-weight="normal" fill="#1a1a1a" >0.07</text>
<line x1="498.70" y1="355.50" x2="504.50" y2="355.50" stroke="#505050" stroke-width="1.1" />
<text x="496.50" y="359.20" font-size="10.7" text-anchor="end" font-weight="normal" fill="#1a1a1a" >0.08</text>
<line x1="498.70" y1="332.50" x2="504.50" y2="332.50" stroke="#505050" stroke-width="1.1" />
<text x="496.50" y="336.20" font-size="10.7" text-anchor="end" font-weight="normal" fill="#1a1a1a" >0.09</text>
<line x1="498.70" y1="309.50" x2="504.50" y2="309.50" stroke="#505050" stroke-width="1.1" />
<text x="496.50" y="313.20" font-size="10.7" text-anchor="end" font-weight="normal" fill="#1a1a1a" >0.10</text>
<line x1="531.30" y1="424.50" x2="531.30" y2="430.30" stroke="#505050" stroke-width="1.1" />
<text x="531.30" y="442.40" font-size="11.7" text-anchor="middle" font-weight="normal" fill="#1a1a1a" >SL</text>
<line x1="592.50" y1="424.50" x2="592.50" y2="430.30" stroke="#505050" stroke-width="1.1" />
<text x="592.50" y="442.40" font-size="11.7" text-anchor="middle" font-weight="normal" fill="#1a1a1a" >HA</text>
<text transform="translate(469.5,367.35) rotate(-90)" font-size="12.8" text-anchor="middle" fill="#1a1a1a">Soleus wet wt (g)</text>
<line x1="519.50" y1="336.20" x2="519.50" y2="343.30" stroke="#444" stroke-width="1.1" />
<line x1="519.50" y1="366.50" x2="519.50" y2="378.00" stroke="#444" stroke-width="1.1" />
<line x1="516.00" y1="336.20" x2="523.00" y2="336.20" stroke="#777" stroke-width="0.9" />
<line x1="516.00" y1="378.00" x2="523.00" y2="378.00" stroke="#777" stroke-width="0.9" />
<rect x="512.00" y="343.30" width="15.00" height="23.20" fill="#fff" stroke="#666" stroke-width="0.8" />
<line x1="512.00" y1="352.60" x2="527.00" y2="352.60" stroke="#666" stroke-width="0.8" />
<circle cx="519.50" cy="336.20" r="2.7" fill="#000"/>
<circle cx="514.40" cy="343.60" r="2.7" fill="#000"/>
<circle cx="519.50" cy="343.60" r="2.7" fill="#000"/>
<circle cx="524.70" cy="348.30" r="2.7" fill="#000"/>
<circle cx="514.40" cy="352.80" r="2.7" fill="#000"/>
<circle cx="524.70" cy="357.50" r="2.7" fill="#000"/>
<circle cx="519.50" cy="361.70" r="2.7" fill="#000"/>
<circle cx="519.50" cy="370.70" r="2.7" fill="#000"/>
<circle cx="519.50" cy="378.00" r="2.7" fill="#000"/>
<line x1="542.50" y1="327.10" x2="542.50" y2="343.60" stroke="#444" stroke-width="1.1" />
<line x1="542.50" y1="357.80" x2="542.50" y2="382.70" stroke="#444" stroke-width="1.1" />
<line x1="539.00" y1="327.10" x2="546.00" y2="327.10" stroke="#777" stroke-width="0.9" />
<line x1="539.00" y1="382.70" x2="546.00" y2="382.70" stroke="#777" stroke-width="0.9" />
<rect x="535.00" y="343.60" width="15.00" height="14.20" fill="#96c3f8" stroke="#666" stroke-width="0.8" />
<circle cx="542.50" cy="327.70" r="2.7" fill="#000"/>
<circle cx="545.20" cy="341.00" r="2.7" fill="#000"/>
<circle cx="542.50" cy="346.00" r="2.7" fill="#000"/>
<circle cx="537.30" cy="357.30" r="2.7" fill="#000"/>
<circle cx="542.50" cy="359.40" r="2.7" fill="#000"/>
<circle cx="547.50" cy="357.30" r="2.7" fill="#000"/>
<circle cx="540.00" cy="358.50" r="2.7" fill="#000"/>
<circle cx="545.00" cy="358.50" r="2.7" fill="#000"/>
<circle cx="542.50" cy="382.90" r="2.7" fill="#000"/>
<line x1="581.00" y1="347.90" x2="581.00" y2="347.40" stroke="#444" stroke-width="1.1" />
<line x1="581.00" y1="371.60" x2="581.00" y2="378.30" stroke="#444" stroke-width="1.1" />
<line x1="577.50" y1="347.90" x2="584.50" y2="347.90" stroke="#777" stroke-width="0.9" />
<line x1="577.50" y1="378.30" x2="584.50" y2="378.30" stroke="#777" stroke-width="0.9" />
<rect x="573.50" y="347.40" width="15.00" height="24.20" fill="#fff" stroke="#666" stroke-width="0.8" />
<line x1="573.50" y1="359.80" x2="588.50" y2="359.80" stroke="#666" stroke-width="0.8" />
<circle cx="575.50" cy="347.90" r="2.7" fill="#000"/>
<circle cx="586.10" cy="347.90" r="2.7" fill="#000"/>
<circle cx="581.00" cy="351.30" r="2.7" fill="#000"/>
<circle cx="575.50" cy="359.80" r="2.7" fill="#000"/>
<circle cx="581.00" cy="359.80" r="2.7" fill="#000"/>
<circle cx="586.10" cy="359.80" r="2.7" fill="#000"/>
<circle cx="581.00" cy="369.00" r="2.7" fill="#000"/>
<circle cx="582.70" cy="375.00" r="2.7" fill="#000"/>
<circle cx="577.70" cy="378.30" r="2.7" fill="#000"/>
<line x1="603.70" y1="355.60" x2="603.70" y2="355.60" stroke="#444" stroke-width="1.1" />
<line x1="603.70" y1="370.80" x2="603.70" y2="384.50" stroke="#444" stroke-width="1.1" />
<line x1="600.20" y1="355.60" x2="607.20" y2="355.60" stroke="#777" stroke-width="0.9" />
<line x1="600.20" y1="384.50" x2="607.20" y2="384.50" stroke="#777" stroke-width="0.9" />
<rect x="596.20" y="355.60" width="15.00" height="15.20" fill="#96c3f8" stroke="#666" stroke-width="0.8" />
<circle cx="600.10" cy="354.60" r="2.7" fill="#000"/>
<circle cx="608.70" cy="357.10" r="2.7" fill="#000"/>
<circle cx="598.10" cy="357.70" r="2.7" fill="#000"/>
<circle cx="602.10" cy="358.20" r="2.7" fill="#000"/>
<circle cx="605.20" cy="361.20" r="2.7" fill="#000"/>
<circle cx="600.10" cy="361.70" r="2.7" fill="#000"/>
<circle cx="608.20" cy="361.70" r="2.7" fill="#000"/>
<circle cx="604.70" cy="379.90" r="2.7" fill="#000"/>
<circle cx="602.70" cy="384.50" r="2.7" fill="#000"/>
<line x1="573.40" y1="337.20" x2="611.50" y2="337.20" stroke="#505050" stroke-width="1.1" />
<line x1="573.40" y1="333.80" x2="573.40" y2="340.60" stroke="#505050" stroke-width="1.1" />
<line x1="611.50" y1="333.80" x2="611.50" y2="340.60" stroke="#505050" stroke-width="1.1" />
<text x="592.45" y="330.00" font-size="11.2" text-anchor="middle" fill="#1a1a1a"><tspan font-style="italic">p</tspan> = 0.064</text>
</svg>
</body></html>
